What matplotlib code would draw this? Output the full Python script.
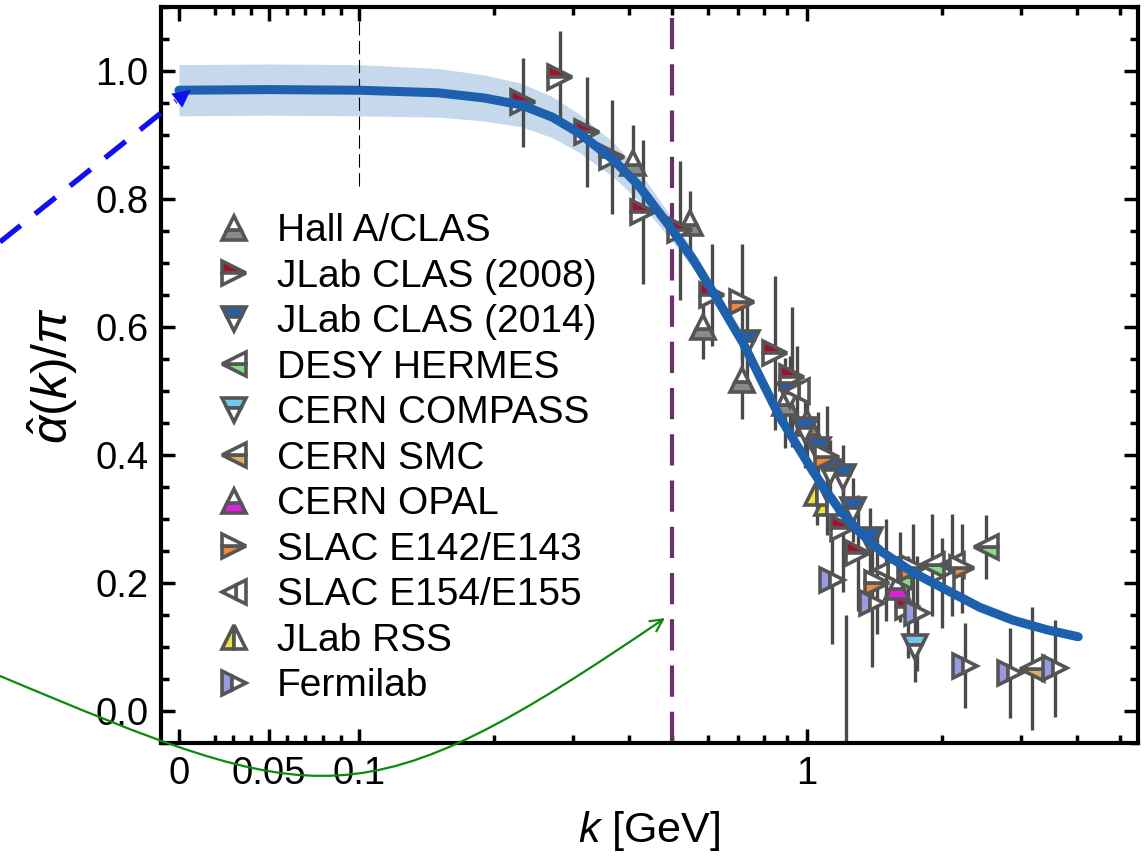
import matplotlib
matplotlib.use('Agg')
import matplotlib.pyplot as plt
from matplotlib.lines import Line2D
from matplotlib.patches import FancyArrowPatch
from matplotlib.path import Path
import matplotlib.ticker as ticker

plt.rcParams['font.family'] = ['Liberation Sans', 'DejaVu Sans']
plt.rcParams['mathtext.fontset'] = 'custom'
plt.rcParams['mathtext.rm'] = 'Liberation Sans'
plt.rcParams['mathtext.it'] = 'Liberation Sans:italic'

# fitted curve + band half width
curve_k = [0.0, 0.05, 0.1, 0.15, 0.19, 0.23, 0.27, 0.31, 0.37, 0.42, 0.50, 0.56, 0.62,
           0.72, 0.80, 0.87, 0.95, 1.03, 1.10, 1.19, 1.30, 1.46, 1.73, 2.05, 2.43, 2.88, 3.43, 4.03]
curve_y = [0.970, 0.971, 0.970, 0.966, 0.958, 0.947, 0.928, 0.903, 0.861, 0.822, 0.752, 0.703, 0.652,
           0.575, 0.510, 0.459, 0.415, 0.375, 0.345, 0.312, 0.282, 0.250, 0.216, 0.189, 0.162, 0.142, 0.127, 0.116]
band_w = [0.040, 0.040, 0.040, 0.038, 0.036, 0.034, 0.032, 0.030, 0.027, 0.024, 0.018, 0.014, 0.010,
          0.006, 0.004, 0.003, 0.002, 0.002, 0.0, 0.0, 0.0, 0.0, 0.0, 0.0, 0.0, 0.0, 0.0, 0.0]

# experimental points: k [GeV], alpha/pi, error
hallA_k = [0.409, 0.548, 0.586, 0.716, 0.893, 1.00]
hallA_y = [0.856, 0.762, 0.600, 0.517, 0.481, 0.450]
hallA_e = [0.060, 0.050, 0.050, 0.060, 0.070, 0.060]

clas08_k = [0.232, 0.281, 0.323, 0.367, 0.430, 0.521, 0.613, 0.848, 0.926, 1.204, 1.30, 1.68]
clas08_y = [0.951, 0.990, 0.905, 0.866, 0.780, 0.751, 0.650, 0.559, 0.522, 0.286, 0.247, 0.163]
clas08_e = [0.069, 0.073, 0.086, 0.089, 0.113, 0.108, 0.080, 0.120, 0.110, 0.100, 0.090, 0.080]

clas14_k = [0.734, 0.916, 0.990, 1.058, 1.126, 1.204, 1.267, 1.382]
clas14_y = [0.575, 0.494, 0.439, 0.408, 0.373, 0.366, 0.314, 0.267]
clas14_e = [0.060, 0.060, 0.060, 0.060, 0.050, 0.050, 0.050, 0.050]

hermes_k = [1.61, 1.90, 2.11, 2.51]
hermes_y = [0.209, 0.228, 0.228, 0.256]
hermes_e = [0.070, 0.080, 0.080, 0.050]

compass_k = [1.74]
compass_y = [0.100]
compass_e = [0.055]

smc_k = [1.22, 3.18]
smc_y = [-0.09, 0.066]
smc_e = [0.24, 0.096]

opal_k = [1.587]
opal_y = [0.194]
opal_e = [0.030]

e142_k = [0.716, 1.108, 1.43, 1.72, 2.22]
e142_y = [0.639, 0.397, 0.200, 0.223, 0.223]
e142_e = [0.090, 0.080, 0.080, 0.070, 0.070]

e154_k = [0.95, 1.50, 2.00]
e154_y = [0.500, 0.220, 0.200]
e154_e = [0.070, 0.080, 0.070]

rss_k = [1.05, 1.108]
rss_y = [0.340, 0.325]
rss_e = [0.050, 0.050]

fermi_k = [1.137, 1.40, 1.76, 2.25, 2.84, 3.58]
fermi_y = [0.205, 0.169, 0.153, 0.071, 0.059, 0.067]
fermi_e = [0.100, 0.100, 0.090, 0.066, 0.070, 0.076]

series = [
    ('Hall A/CLAS', '^', 'bottom', '#8a8a8a', hallA_k, hallA_y, hallA_e),
    ('JLab CLAS (2008)', '>', 'top', '#a3102c', clas08_k, clas08_y, clas08_e),
    ('JLab CLAS (2014)', 'v', 'top', '#2160ad', clas14_k, clas14_y, clas14_e),
    ('DESY HERMES', '<', 'bottom', '#86dd86', hermes_k, hermes_y, hermes_e),
    ('CERN COMPASS', 'v', 'top', '#72c8ec', compass_k, compass_y, compass_e),
    ('CERN SMC', '<', 'bottom', '#dcae68', smc_k, smc_y, smc_e),
    ('CERN OPAL', '^', 'bottom', '#e020dc', opal_k, opal_y, opal_e),
    ('SLAC E142/E143', '>', 'bottom', '#f0883a', e142_k, e142_y, e142_e),
    ('SLAC E154/E155', '<', 'right', '#ffffff', e154_k, e154_y, e154_e),
    ('JLab RSS', '^', 'left', '#f2e436', rss_k, rss_y, rss_e),
    ('Fermilab', '>', 'left', '#9a9ae0', fermi_k, fermi_y, fermi_e),
]

fig = plt.figure(figsize=(11.45, 8.58), dpi=100)
ax = fig.add_axes([0.1406, 0.134, 0.8533, 0.8578])
ax.set_xscale('symlog', linthresh=0.1, linscale=0.3616)

lo = [y - w for y, w in zip(curve_y, band_w)]
hi = [y + w for y, w in zip(curve_y, band_w)]
ax.fill_between(curve_k, lo, hi, color='#c6d8ec', lw=0, zorder=1)

handles = []
for lab, m, fs, col, k, y, e in series:
    ax.errorbar(k, y, yerr=e, fmt='none', ecolor='#4a4a4a', elinewidth=2.4, zorder=2)
    ax.plot(k, y, ls='none', marker=m, ms=17, mew=2.6, mec='#555555', mfc=col,
            mfcalt='white', fillstyle=fs, zorder=3)
    handles.append(Line2D([], [], ls='none', marker=m, ms=17, mew=2.6, mec='#555555',
                          mfc=col, mfcalt='white', fillstyle=fs))

ax.plot(curve_k, curve_y, color='#1d60ae', lw=6.5, solid_capstyle='round', zorder=4)

ax.plot([0.1, 0.1], [0.82, 1.10], color='k', lw=0.8, ls=(0, (12, 5)), zorder=1)
ax.axvline(0.5, color='#6b2f70', lw=3, ls=(0, (7.5, 3.6)), zorder=2)

ax.set_xlim(-0.01, 5.48)
ax.set_ylim(-0.05, 1.10)
ax.xaxis.set_major_locator(ticker.FixedLocator([0, 0.05, 0.1, 1]))
ax.xaxis.set_major_formatter(ticker.FixedFormatter(['0', '0.05', '0.1', '1']))
ax.xaxis.set_minor_locator(ticker.FixedLocator(
    [0.02, 0.03, 0.04, 0.06, 0.07, 0.08, 0.09, 0.2, 0.3, 0.4, 0.5, 0.6, 0.7, 0.8, 0.9, 2, 3, 4, 5]))
ax.yaxis.set_major_locator(ticker.MultipleLocator(0.2))
ax.yaxis.set_minor_locator(ticker.MultipleLocator(0.05))
ax.yaxis.set_major_formatter(ticker.FormatStrFormatter('%.1f'))
ax.tick_params(which='both', direction='in', top=True, right=True, width=2.5, labelsize=27.5)
ax.tick_params(which='major', length=10, pad=9)
ax.tick_params(which='minor', length=6)
for s in ax.spines.values():
    s.set_linewidth(3)

ax.set_xlabel(r'$k$ [GeV]', fontsize=31)
ax.xaxis.set_label_coords(0.5, -0.09)
ax.set_ylabel(r'$\hat{\alpha}(k)/\pi$', fontsize=36)
ax.yaxis.set_label_coords(-0.083, 0.5)

ax.legend(handles, [s[0] for s in series], loc='upper left', bbox_to_anchor=(0.055, 0.72),
          frameon=False, fontsize=28, handlelength=1.0, handletextpad=0.6,
          labelspacing=0.245, borderaxespad=0, borderpad=0)

W, H = 1145.0, 858.0
def fp(x, y):
    return (x / W, 1 - y / H)

# blue dashed arrow pointing at the k=0 value
fig.add_artist(Line2D([fp(0, 242)[0], fp(176, 101)[0]], [fp(0, 242)[1], fp(176, 101)[1]],
                      color='#1010ee', lw=3.8, ls=(0, (5, 3.5)), transform=fig.transFigure, zorder=10))
fig.add_artist(FancyArrowPatch(fp(170, 106), fp(193, 88), transform=fig.transFigure,
                               arrowstyle='-|>', mutation_scale=32, color='#1010ee', lw=0, zorder=10))

# green curved arrow
pts = [fp(0, 676), fp(320, 810), fp(360, 826), fp(665, 618)]
gpath = Path(pts, [Path.MOVETO, Path.CURVE4, Path.CURVE4, Path.CURVE4])
fig.add_artist(FancyArrowPatch(path=gpath, transform=fig.transFigure, arrowstyle='->',
                               mutation_scale=22, color='#0c8a0c', lw=1.6, zorder=10))

fig.savefig('out.png', dpi=100)
